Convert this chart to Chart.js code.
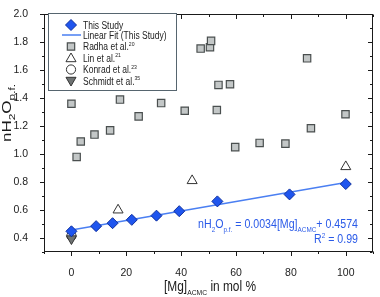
<!DOCTYPE html>
<html>
<head>
<meta charset="utf-8">
<script src="https://cdn.jsdelivr.net/npm/chart.js@4.4.0/dist/chart.umd.min.js"></script>
<style>
html,body{margin:0;padding:0;background:#fff;}
canvas{display:block;}
</style>
</head>
<body>
<canvas id="c" width="380" height="297"></canvas>
<script>
// ---- data ----
const thisStudyX = [0, 9, 15, 22, 31, 39.3, 53.2, 79.5, 100];
const thisStudyY = [0.448, 0.485, 0.506, 0.53, 0.56, 0.592, 0.662, 0.712, 0.786];
const fitX = [0, 100];
const fitY = [0.4574, 0.7974];
const radhaX = [0, 1.9, 3.4, 8.4, 14.1, 17.7, 24.5, 32.7, 41.3, 47.1, 50.5, 50.9, 53.6, 53.0, 57.8, 59.7, 68.6, 78.0, 85.9, 87.3, 99.9];
const radhaY = [1.36, 0.98, 1.09, 1.14, 1.17, 1.39, 1.27, 1.365, 1.31, 1.755, 1.765, 1.81, 1.495, 1.315, 1.50, 1.05, 1.08, 1.075, 1.685, 1.185, 1.285];
const linX = [17, 44, 100];
const linY = [0.60, 0.81, 0.91];
const konradX = [0];
const konradY = [0.415];
const schmidtX = [0];
const schmidtY = [0.395];
const xTickLabels = [0, 20, 40, 60, 80, 100];
const yTickLabels = [0.4, 0.6, 0.8, 1.0, 1.2, 1.4, 1.6, 1.8, 2.0];
const xMinorTicks = [-10, 10, 30, 50, 70, 90, 110];
const yMinorTicks = [0.3, 0.5, 0.7, 0.9, 1.1, 1.3, 1.5, 1.7, 1.9];

const FONT = "'Liberation Sans', Arial, sans-serif";
const pts = (xs, ys) => xs.map((x, i) => ({x: x, y: ys[i]}));

const BLUE = '#1f55ee', BLUE_EDGE = '#0e2f9e', LINE_BLUE = '#4a7ff2', TXT_BLUE = '#2a5ae8';
const SQ_FILL = '#c3c7c7', SQ_EDGE = '#4a4f4f';
const GRAY_TRI = '#6f7373';

function fontStr(size){ return size + 'px ' + FONT; }
function runsWidth(ctx, runs, size, sr){
  let w = 0;
  for (const r of runs){ ctx.font = fontStr(r.s ? size*sr : size); w += ctx.measureText(r.t).width; }
  return w;
}
// draw mixed normal/sub/superscript text; hs = horizontal squeeze along the text direction
function drawRuns(ctx, runs, x, y, size, align, sr, hs){
  sr = sr || 0.62; hs = hs || 1;
  const w = runsWidth(ctx, runs, size, sr) * hs;
  const x0 = align === 'right' ? x - w : (align === 'center' ? x - w/2 : x);
  ctx.save();
  ctx.translate(x0, y);
  ctx.scale(hs, 1);
  ctx.textAlign = 'left'; ctx.textBaseline = 'alphabetic';
  let cx = 0;
  for (const r of runs){
    ctx.font = fontStr(r.s ? size*sr : size);
    const dy = r.s === 'sub' ? size*0.28 : (r.s === 'sup' ? -size*0.42 : 0);
    ctx.fillText(r.t, cx, dy);
    cx += ctx.measureText(r.t).width;
  }
  ctx.restore();
}
function shape(ctx, kind, x, y, r, fill, stroke, lw){
  ctx.save();
  ctx.beginPath();
  if (kind === 'diamond'){ ctx.moveTo(x-r,y); ctx.lineTo(x,y-r); ctx.lineTo(x+r,y); ctx.lineTo(x,y+r); ctx.closePath(); }
  else if (kind === 'square'){ const h=r*Math.SQRT1_2; ctx.rect(x-h,y-h,2*h,2*h); }
  else if (kind === 'tri'){ const a=r*Math.sqrt(3)/2; ctx.moveTo(x,y-r); ctx.lineTo(x+a,y+r/2); ctx.lineTo(x-a,y+r/2); ctx.closePath(); }
  else if (kind === 'dtri'){ const a=r*Math.sqrt(3)/2; ctx.moveTo(x,y+r); ctx.lineTo(x+a,y-r/2); ctx.lineTo(x-a,y-r/2); ctx.closePath(); }
  else if (kind === 'circle'){ ctx.arc(x,y,r,0,Math.PI*2); }
  ctx.fillStyle = fill; ctx.fill();
  ctx.lineWidth = lw; ctx.strokeStyle = stroke; ctx.stroke();
  ctx.restore();
}

const decor = {
  id: 'decor',
  afterDraw(chart){
    const ctx = chart.ctx, a = chart.chartArea;
    const xs = chart.scales.x, ys = chart.scales.y;
    ctx.save();
    // frame
    ctx.strokeStyle = '#1a1a1a'; ctx.lineWidth = 1;
    ctx.strokeRect(Math.round(a.left)+0.5, Math.round(a.top)+0.5, Math.round(a.right-a.left)-1, Math.round(a.bottom-a.top)-1);
    // ticks
    const L = Math.round(a.left)+0.5, R = Math.round(a.right)-0.5, T = Math.round(a.top)+0.5, B = Math.round(a.bottom)-0.5;
    ctx.beginPath();
    const maj = 4.5, mnr = 2.5;
    for (const v of xTickLabels.concat(xMinorTicks)){
      const len = xTickLabels.includes(v) ? maj : mnr;
      const px = Math.round(xs.getPixelForValue(v)) + 0.5;
      ctx.moveTo(px, B); ctx.lineTo(px, B+len);
      ctx.moveTo(px, T); ctx.lineTo(px, T+len);
    }
    for (const v of yTickLabels.concat(yMinorTicks)){
      const len = yTickLabels.includes(v) ? maj : mnr;
      const py = Math.round(ys.getPixelForValue(v)) + 0.5;
      ctx.moveTo(L, py); ctx.lineTo(L-len, py);
      ctx.moveTo(R, py); ctx.lineTo(R-len, py);
    }
    ctx.stroke();

    // legend
    const lx = 48.5, ly = 13.5, lw = 128, lh = 77;
    ctx.fillStyle = '#fff'; ctx.fillRect(lx, ly, lw, lh);
    ctx.strokeStyle = '#56656f'; ctx.lineWidth = 1; ctx.strokeRect(lx, ly, lw, lh);
    const sx = 71, tx = 83, size = 10;
    const rows = [25, 35, 46.5, 58, 69.5, 81];
    shape(ctx, 'diamond', sx, rows[0], 5.5, BLUE, BLUE_EDGE, 1);
    ctx.strokeStyle = LINE_BLUE; ctx.lineWidth = 1.5;
    ctx.beginPath(); ctx.moveTo(62, rows[1]); ctx.lineTo(81, rows[1]); ctx.stroke();
    shape(ctx, 'square', sx, rows[2], 5.2, SQ_FILL, SQ_EDGE, 1.2);
    shape(ctx, 'tri', sx, rows[3]+0.8, 5.8, '#fff', '#333', 1);
    shape(ctx, 'circle', sx, rows[4], 4.6, '#fff', '#333', 1);
    shape(ctx, 'dtri', sx, rows[5]-0.8, 5.8, GRAY_TRI, '#333', 1);
    ctx.fillStyle = '#222';
    const labels = [
      [{t:'This Study'}],
      [{t:'Linear Fit (This Study)'}],
      [{t:'Radha et al.'},{t:'20',s:'sup'}],
      [{t:'Lin et al.'},{t:'21',s:'sup'}],
      [{t:'Konrad et al.'},{t:'23',s:'sup'}],
      [{t:'Schmidt et al.'},{t:'35',s:'sup'}]
    ];
    labels.forEach((runs, i) => drawRuns(ctx, runs, tx, rows[i] + 3.6, size, 'left', 0.6, 0.85));

    // equation annotation
    ctx.fillStyle = TXT_BLUE;
    drawRuns(ctx, [{t:'nH'},{t:'2',s:'sub'},{t:'O'},{t:'p.f.',s:'sub'},{t:' = 0.0034[Mg]'},{t:'ACMC',s:'sub'},{t:'+ 0.4574'}], 358, 228, 12.5, 'right', 0.6, 0.85);
    drawRuns(ctx, [{t:'R'},{t:'2',s:'sup'},{t:' = 0.99'}], 358, 243, 12.5, 'right', 0.6, 0.85);

    // axis titles
    ctx.fillStyle = '#1a1a1a';
    drawRuns(ctx, [{t:'[Mg]'},{t:'ACMC',s:'sub'},{t:' in mol %'}], 210, 291, 14, 'center', 0.57, 0.85);
    ctx.save();
    ctx.translate(11, 113);
    ctx.rotate(-Math.PI/2);
    ctx.scale(1, 0.8);
    drawRuns(ctx, [{t:'nH'},{t:'2',s:'sub'},{t:'O'},{t:'p.f.',s:'sub'}], 0, 0, 17, 'center', 0.7);
    ctx.restore();
    ctx.restore();
  }
};

new Chart(document.getElementById('c'), {
  type: 'scatter',
  data: {
    datasets: [
      {label:'This Study', data: pts(thisStudyX, thisStudyY), pointStyle:'rectRot', pointRadius:5.5,
       backgroundColor: BLUE, borderColor: BLUE_EDGE, borderWidth:1, order:0},
      {label:'Linear Fit (This Study)', data: pts(fitX, fitY), showLine:true, pointRadius:0,
       borderColor: LINE_BLUE, borderWidth:1.5, order:1},
      {label:'Schmidt et al.', data: pts(schmidtX, schmidtY), pointStyle:'triangle', rotation:180, pointRadius:5.8,
       backgroundColor: GRAY_TRI, borderColor:'#333', borderWidth:1, order:2},
      {label:'Konrad et al.', data: pts(konradX, konradY), pointStyle:'circle', pointRadius:4.6,
       backgroundColor:'#fff', borderColor:'#333', borderWidth:1, order:3},
      {label:'Lin et al.', data: pts(linX, linY), pointStyle:'triangle', pointRadius:5.8,
       backgroundColor:'#fff', borderColor:'#333', borderWidth:1, order:4},
      {label:'Radha et al.', data: pts(radhaX, radhaY), pointStyle:'rect', pointRadius:5.2,
       backgroundColor: SQ_FILL, borderColor: SQ_EDGE, borderWidth:1.2, order:5}
    ]
  },
  options: {
    responsive: false,
    animation: false,
    events: [],
    layout: {padding: {top: 7, right: 4, left: 0, bottom: 0}},
    plugins: {legend: {display:false}, tooltip: {enabled:false}},
    scales: {
      x: {
        type:'linear', min:-10, max:110,
        grid:{display:false}, border:{display:false},
        afterBuildTicks: s => { s.ticks = xTickLabels.map(v => ({value:v})); },
        afterFit: s => { s.height = 45; },
        ticks: {font:{family:FONT, size:10.5}, color:'#222', padding:7, maxRotation:0, autoSkip:false}
      },
      y: {
        type:'linear', min:0.3, max:2.0,
        grid:{display:false}, border:{display:false},
        afterBuildTicks: s => { s.ticks = yTickLabels.map(v => ({value:v})); },
        afterFit: s => { s.width = 44; },
        ticks: {font:{family:FONT, size:10.5}, color:'#222', padding:8, autoSkip:false,
                callback: v => Number(v).toFixed(1)}
      }
    }
  },
  plugins: [decor]
});
</script>
</body>
</html>
